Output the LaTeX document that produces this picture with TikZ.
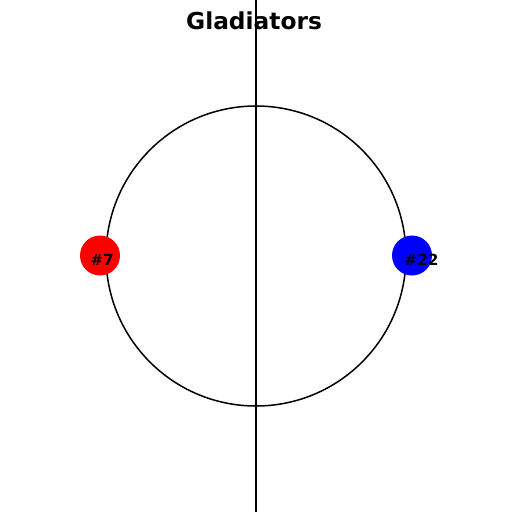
\documentclass[tikz,border=0pt]{standalone}
\usepackage{fontspec}
\setmainfont{DejaVu Sans}
\begin{document}
\begin{tikzpicture}[x=1pt,y=-1pt,
  lineblk/.style={line width=1.5pt,black},
  dot/.style={circle,minimum size=40pt,inner sep=0pt},
  lbl/.style={font=\bfseries\fontsize{15.3}{15.3}\selectfont,inner sep=0pt},
  ttl/.style={font=\bfseries\fontsize{23.3}{23.3}\selectfont,inner sep=0pt}]
\useasboundingbox (0,0) rectangle (512,512);
\coordinate (top) at (256,0);
\coordinate (bot) at (256,512);
\coordinate (c) at (256,256);
\draw[lineblk] (c) circle[radius=150];
\draw[lineblk] (top) -- (bot);
\node[dot,fill=red] (red) at (100,255.5) {};
\node[dot,fill=blue] (blue) at (412,255.5) {};
\node[lbl] (l7) at (102,260) {\#7};
\node[lbl] (l22) at (421.5,260) {\#22};
\node[ttl] (title) at (254,21) {Gladiators};
\end{tikzpicture}
\end{document}
